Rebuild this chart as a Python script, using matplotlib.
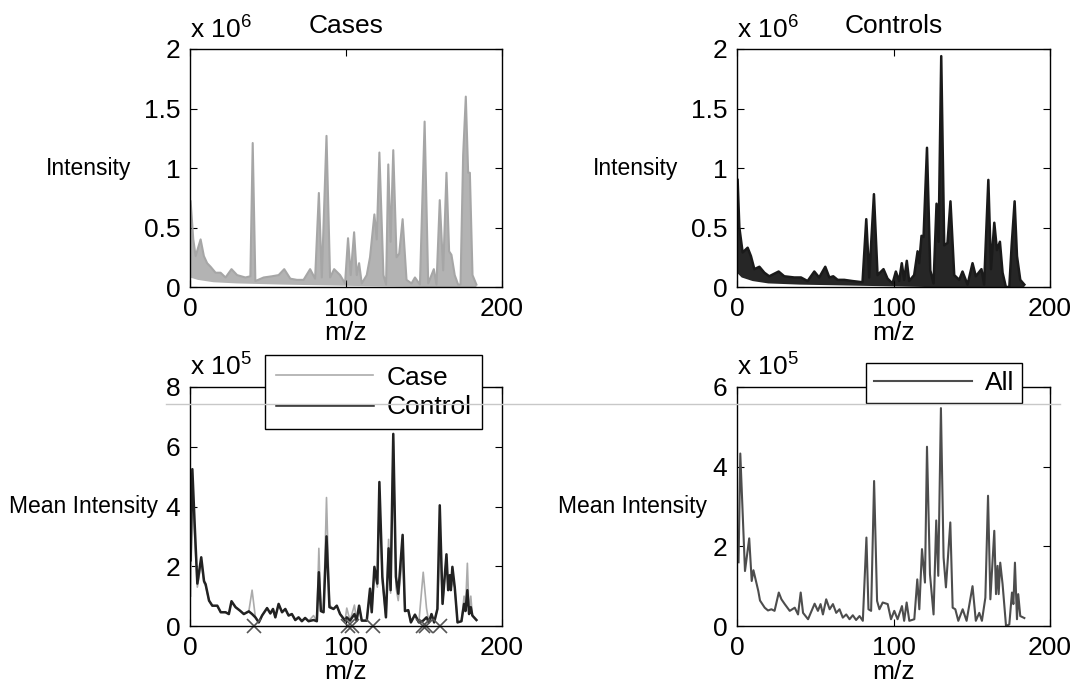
import numpy as np
import matplotlib.pyplot as plt
from matplotlib.lines import Line2D

# ---- data ----
# top row: envelope of all spectra (x 10^6)
case_hi_x = [0.4, 2.1, 3.6, 6.8, 8.9, 11, 13.2, 16.4, 19.6, 22.8, 26.6, 30.2, 35.5, 38.7, 40.2, 41.9,
             47.2, 52.5, 56.8, 60.4, 64.3, 68.5, 72.8, 77, 80.2, 82.6, 84.5, 87.5, 89.8, 92.4, 96.2,
             99.4, 101.3, 103, 105.2, 106.9, 108.4, 110.1, 113.3, 115.4, 118.2, 119.7, 121.4, 124,
             125.7, 127.1, 128.6, 130.3, 132.4, 134.1, 136.3, 138.8, 142, 144.2, 147.4, 150.4, 152.7,
             156.3, 158, 160.1, 162.3, 164.4, 166.1, 167.6, 169.7, 171.9, 173.4, 175.1, 176.8, 178.3,
             179.4, 181.1, 183.6]
case_hi_y = [0.72, 0.4, 0.26, 0.4, 0.26, 0.2, 0.17, 0.12, 0.12, 0.08, 0.15, 0.1, 0.08, 0.09, 1.21, 0.05,
             0.08, 0.09, 0.1, 0.15, 0.07, 0.06, 0.06, 0.15, 0.07, 0.79, 0.08, 1.27, 0.08, 0.15, 0.1,
             0.03, 0.41, 0.1, 0.46, 0.1, 0.2, 0.03, 0.1, 0.25, 0.61, 0.4, 1.13, 0.1,
             0.02, 1.03, 0.38, 1.15, 0.25, 0.28, 0.57, 0.06, 0.03, 0.08, 0.02, 1.39, 0.03,
             0.15, 0.02, 0.73, 0.14, 0.96, 0.3, 0.27, 0.1, 0.02, 0.02, 1.11, 1.6, 0.96,
             0.96, 0.1, 0.02]
case_lo_x = [0, 5, 15, 30, 60, 100, 150, 183.6]
case_lo_y = [0.08, 0.06, 0.04, 0.03, 0.02, 0.01, 0.0, 0.0]

ctrl_hi_x = [0.4, 1.5, 3.6, 6.8, 8.9, 11.1, 14.3, 17.5, 20.6, 26.6, 30.2, 36.6, 40.9, 45.1, 49.4, 52.5,
             56.4, 59, 61.5, 64.3, 68.5, 73.8, 80.2, 82.6, 84.5, 87.5, 89.8, 93.6, 96.2, 99.4, 101.5,
             103.6, 105.3, 106.8, 108.5, 110, 113.2, 115.4, 116.4, 117.9, 119.2, 121.4, 123.5, 125.6,
             127.5, 128.8, 130.5, 132.4, 134.5, 136.4, 138.8, 142, 144.1, 147.3, 150.5, 152.6, 156.2,
             157.9, 160.6, 162.3, 164.4, 166.1, 168, 169.7, 171.8, 174, 175.5, 177.4, 178.9, 181, 183.6]
ctrl_hi_y = [0.9, 0.5, 0.29, 0.33, 0.26, 0.15, 0.17, 0.12, 0.09, 0.13, 0.09, 0.08, 0.08, 0.05, 0.13, 0.08,
             0.17, 0.08, 0.09, 0.06, 0.06, 0.05, 0.04, 0.57, 0.08, 0.78, 0.1, 0.15, 0.07, 0.03, 0.13,
             0.05, 0.2, 0.06, 0.22, 0.05, 0.1, 0.3, 0.2, 0.43, 0.42, 1.17, 0.14, 0.03,
             0.7, 0.38, 1.94, 0.35, 0.37, 0.72, 0.1, 0.06, 0.13, 0.02, 0.2, 0.09, 0.15,
             0.02, 0.9, 0.15, 0.54, 0.31, 0.38, 0.12, 0.0, 0.0, 0.35, 0.72, 0.26, 0.06, 0.02]
ctrl_lo_x = [0, 3, 10, 20, 40, 80, 120, 183.6]
ctrl_lo_y = [0.12, 0.08, 0.05, 0.03, 0.02, 0.01, 0.0, 0.0]

# bottom row: mean spectra (x 10^5)
mean_x = [0.4, 1.5, 3.0, 4.7, 7.2, 9.0, 10.0, 12.2, 14.3, 17.5, 19.7, 22.8, 24.9, 26.6, 29.2, 31.9,
          34.5, 37.7, 39.8, 41.9, 44.1, 46.2, 49.4, 51.5, 53.2, 54.7, 56.8, 59.0, 61.1, 63.2, 65.3,
          67.5, 69.6, 71.7, 73.8, 76.0, 79.2, 81.3, 82.6, 83.9, 85.6, 87.5, 89.4, 92.0, 94.1, 96.2,
          99.4, 100.5, 102.6, 105.4, 106.8, 108.4, 110.1, 113.3, 115.4, 116.5, 118.2, 120.1, 121.4,
          123.3, 125.6, 127.3, 128.6, 130.3, 132.0, 133.5, 136.3, 137.8, 139.9, 141.6, 144.2, 146.7,
          149.5, 151.6, 153.1, 154.8, 156.5, 158.6, 160.1, 161.9, 164.4, 165.5, 166.5, 167.2, 168.2,
          169.7, 171.5, 174.0, 175.7, 176.6, 177.8, 178.9, 180.0, 181.0, 183.6]
control_mean = [2.2, 5.25, 3.4, 1.42, 2.3, 1.5, 1.4, 0.85, 0.68, 0.68, 0.46, 0.46, 0.4, 0.83, 0.63, 0.52,
                0.4, 0.49, 0.4, 0.29, 0.12, 0.35, 0.6, 0.42, 0.57, 0.29, 0.74, 0.46, 0.57, 0.35, 0.4,
                0.2, 0.29, 0.16, 0.27, 0.16, 0.2, 0.16, 1.8, 0.5, 0.46, 3.0, 0.63, 0.57, 0.68, 0.4,
                0.18, 0.29, 0.18, 0.4, 0.18, 0.68, 0.18, 0.18, 1.25, 0.46, 1.98, 1.42, 4.82,
                1.65, 0.29, 2.6, 1.2, 6.43, 1.65, 1.08, 3.05, 0.5, 0.53, 0.12, 0.38, 0.12,
                0.18, 0.29, 0.12, 0.4, 0.12, 0.57, 4.04, 0.74, 2.4, 1.2, 1.7, 1.2, 1.98,
                1.3, 0.12, 0.16, 0.74, 0.5, 1.2, 0.4, 0.63, 0.35, 0.2]
case_mean = [1.0, 4.4, 3.0, 1.3, 2.1, 1.45, 1.35, 0.85, 0.68, 0.66, 0.46, 0.46, 0.4, 0.8, 0.63, 0.52,
             0.4, 0.49, 1.2, 0.29, 0.12, 0.35, 0.6, 0.42, 0.57, 0.29, 0.74, 0.46, 0.57, 0.35, 0.4,
             0.2, 0.29, 0.16, 0.27, 0.16, 0.35, 0.16, 2.6, 0.5, 0.46, 4.3, 0.7, 0.57, 0.68, 0.4,
             0.18, 0.6, 0.18, 0.7, 0.18, 0.68, 0.18, 0.18, 1.1, 0.46, 1.8, 1.3, 4.5,
             1.5, 0.29, 2.9, 1.1, 6.2, 1.3, 0.85, 2.4, 0.5, 0.53, 0.12, 0.38, 0.12,
             1.8, 0.6, 0.12, 0.4, 0.12, 0.57, 3.0, 0.74, 2.3, 1.2, 1.4, 1.2, 1.5,
             1.3, 0.12, 0.16, 1.0, 0.6, 2.1, 0.4, 1.0, 0.35, 0.2]

all_x = [1.0, 2.1, 5.1, 7.8, 9.4, 10.5, 13.6, 14.7, 17.7, 19.8, 22.0, 24.0, 26.7, 28.4, 30.5, 33.7,
         36.9, 39.0, 40.7, 42.2, 45.4, 49.6, 51.7, 53.4, 54.9, 57.0, 59.2, 61.3, 63.4, 65.5, 67.6,
         69.8, 71.9, 74.0, 76.1, 78.3, 80.4, 82.7, 84.0, 85.7, 87.6, 89.5, 91.0, 93.1, 96.3, 98.4,
         100.5, 102.6, 105.4, 106.8, 108.4, 110.1, 113.3, 115.2, 116.5, 118.2, 120.1, 121.4, 123.3,
         125.6, 127.3, 128.6, 130.3, 132.0, 133.5, 136.3, 137.8, 139.5, 141.4, 144.2, 146.7, 150.5,
         152.6, 154.8, 156.5, 158.7, 160.4, 161.9, 164.4, 165.5, 166.5, 167.2, 168.2, 169.7, 171.9,
         174.0, 175.7, 176.6, 177.6, 178.9, 179.7, 181.0, 183.6]
all_mean = [1.6, 4.33, 1.38, 2.2, 1.13, 1.4, 0.88, 0.64, 0.46, 0.39, 0.42, 0.38, 0.84, 0.67, 0.55, 0.38,
            0.46, 0.29, 0.84, 0.33, 0.17, 0.56, 0.38, 0.55, 0.29, 0.67, 0.42, 0.55, 0.33, 0.42, 0.21,
            0.29, 0.17, 0.27, 0.15, 0.25, 0.13, 2.22, 0.42, 0.38, 3.64, 0.63, 0.42, 0.59, 0.55, 0.17,
            0.38, 0.17, 0.5, 0.13, 0.59, 0.13, 0.17, 1.17, 0.42, 1.93, 1.09, 4.5, 1.3,
            0.29, 2.65, 1.26, 5.47, 1.72, 0.97, 2.6, 0.46, 0.42, 0.13, 0.42, 0.13, 1.0,
            0.13, 0.33, 0.13, 0.71, 3.27, 0.67, 2.39, 0.8, 1.51, 0.8, 1.59, 1.05, 0.0,
            0.04, 0.84, 0.55, 1.59, 0.17, 0.8, 0.25, 0.2]

# significant m/z positions (crosses on the axis)
sig_x = [40.8, 101.5, 103.7, 117.5, 149.5, 151.5, 160.5]

FS = 19
plt.rcParams['font.family'] = ['Liberation Sans', 'DejaVu Sans']
plt.rcParams['mathtext.fontset'] = 'custom'
plt.rcParams['mathtext.rm'] = 'Liberation Sans'

fig = plt.figure(figsize=(10.76, 6.82), dpi=100)
W, H = 1076, 682


def make_ax(l, t, r, b):
    return fig.add_axes([l / W, 1 - b / H, (r - l) / W, (b - t) / H])


ax1 = make_ax(190, 49, 502, 287)
ax2 = make_ax(737, 49, 1050, 287)
ax3 = make_ax(190, 387, 502, 626)
ax4 = make_ax(737, 387, 1050, 626)

# top-left: cases
ax1.fill(np.r_[case_hi_x, case_lo_x[::-1]], np.r_[case_hi_y, case_lo_y[::-1]],
         color='#b3b3b3', lw=0)
ax1.plot(case_hi_x, case_hi_y, color='#a6a6a6', lw=1.5)

# top-right: controls
ax2.fill(np.r_[ctrl_hi_x, ctrl_lo_x[::-1]], np.r_[ctrl_hi_y, ctrl_lo_y[::-1]],
         color='#262626', lw=0)
ax2.plot(ctrl_hi_x, ctrl_hi_y, color='#1a1a1a', lw=1.8)

# bottom-left: case vs control means
ax3.plot(mean_x, case_mean, color='#ababab', lw=1.2, label='Case')
ax3.plot(mean_x, control_mean, color='#222222', lw=1.8, label='Control')
ax3.plot(sig_x, np.zeros(len(sig_x)), 'x', color='#555555', ms=10, mew=1.2, clip_on=False)

# bottom-right: all
ax4.plot(all_x, all_mean, color='#4d4d4d', lw=1.5, label='All')

for ax, ymax, step in [(ax1, 2, 0.5), (ax2, 2, 0.5), (ax3, 8, 2), (ax4, 6, 2)]:
    ax.set_xlim(0, 200)
    ax.set_ylim(0, ymax)
    ax.set_xticks([0, 100, 200])
    ax.set_yticks(np.arange(0, ymax + 0.01, step))
    ax.yaxis.set_major_formatter(plt.FuncFormatter(lambda v, p: ('%g' % v)))
    ax.tick_params(direction='in', top=True, right=True, length=5, labelsize=FS, pad=7)
    ax.set_xlabel('m/z', fontsize=FS, labelpad=0)
    for s in ax.spines.values():
        s.set_linewidth(1.0)

for ax, txt, xc in [(ax1, 'Intensity', -0.189), (ax2, 'Intensity', -0.188),
                    (ax3, 'Mean Intensity', -0.103), (ax4, 'Mean Intensity', -0.096)]:
    ax.set_ylabel(txt, rotation=0, ha='right', va='center', fontsize=16.5)
    ax.yaxis.set_label_coords(xc, 0.5)

ax1.text(0.5, 1.067, 'Cases', transform=ax1.transAxes, ha='center', va='baseline', fontsize=FS)
ax2.text(0.5, 1.067, 'Controls', transform=ax2.transAxes, ha='center', va='baseline', fontsize=FS)
for ax, e in [(ax1, 6), (ax2, 6), (ax3, 5), (ax4, 5)]:
    ax.text(0.0, 1.05, r'x 10$^{\mathrm{%d}}$' % e, transform=ax.transAxes, ha='left', va='baseline',
            fontsize=FS)

leg3 = ax3.legend(loc='upper left', bbox_to_anchor=(265 / W, 1 - 355 / H), bbox_transform=fig.transFigure,
                  fontsize=FS, frameon=True, fancybox=False, edgecolor='black', framealpha=1,
                  handlelength=3.7, borderpad=0.4, labelspacing=0.2, handletextpad=0.5,
                  borderaxespad=0)
leg3.get_frame().set_linewidth(1.0)
leg4 = ax4.legend(loc='upper left', bbox_to_anchor=(866 / W, 1 - 363 / H), bbox_transform=fig.transFigure,
                  fontsize=FS, frameon=True, fancybox=False, edgecolor='black', framealpha=1,
                  handlelength=3.7, borderpad=0.3, handletextpad=0.5, borderaxespad=0)
leg4.get_frame().set_linewidth(1.0)

# faint horizontal scan line across the figure
fig.add_artist(Line2D([166 / W, 1060 / W], [1 - 404 / H, 1 - 404 / H], color='#c8c8c8', lw=1,
                      transform=fig.transFigure, zorder=10))

fig.savefig('out.png', dpi=100)
